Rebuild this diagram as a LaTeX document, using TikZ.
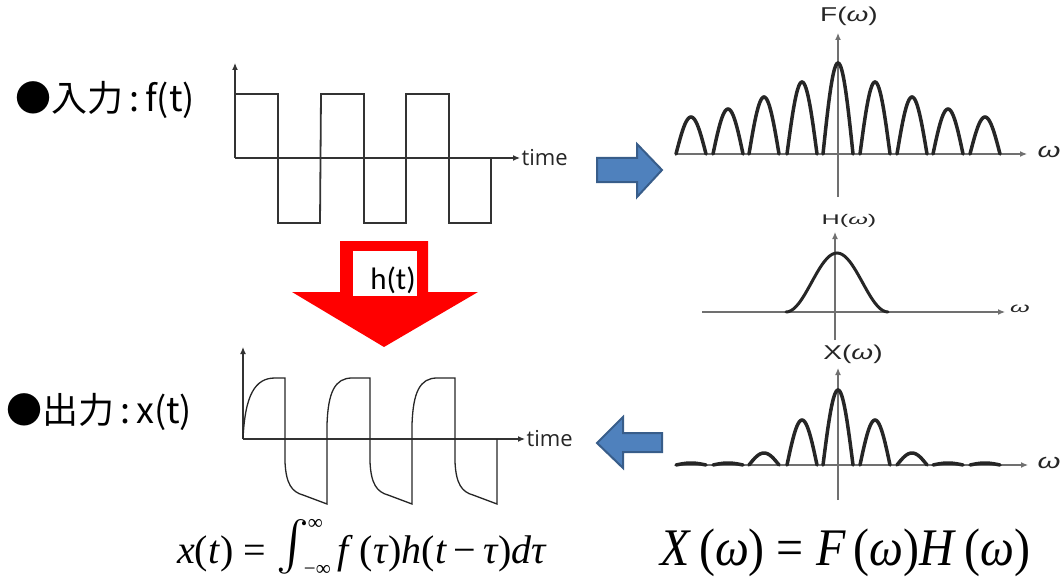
\documentclass[tikz,border=0pt]{standalone}
\usepackage{fontspec}
\usetikzlibrary{arrows.meta}
\newfontfamily\jpfont{Noto Sans CJK JP}
\newfontfamily\lblfont{Liberation Sans}
\newfontfamily\timefont{Open Sans}
\newfontfamily\hfont{Carlito}
\newfontfamily\eqfont{Liberation Serif}
\definecolor{ArrowBlue}{HTML}{4F81BD}
\definecolor{ArrowBlueEdge}{HTML}{385D8A}
\definecolor{AxisGray}{HTML}{707070}
\newcommand{\widelbl}[2][1.4]{\scalebox{#1}[1]{#2}}
\newcommand{\limlbl}[1]{\hbox{\eqfont\fontsize{21}{21}\selectfont #1}}
\newcommand{\bigint}{\raisebox{-15pt}{\resizebox*{!}{58pt}{$\int$}}}

\begin{document}
\begin{tikzpicture}[x=1pt, y=-1pt,
  axis/.style={line width=1.2pt, draw=black!80, -{Latex[length=7pt,width=6pt]}},
  specaxis/.style={axis, draw=AxisGray},
  wave/.style={line width=1.8pt, draw=black!80, line join=miter},
  resp/.style={line width=1.3pt, draw=black!85},
  lobe/.style={line width=3.5pt, draw=black!85, line cap=round},
  blockarrow/.style={fill=ArrowBlue, draw=ArrowBlueEdge, line width=2pt, line join=miter},
  title/.style={inner sep=0pt, anchor=west, font=\jpfont\fontsize{36}{40}\selectfont},
  timelbl/.style={right, inner sep=1pt, font=\timefont\fontsize{22}{24}\selectfont, text=black!85},
  speclbl/.style={inner sep=0pt, font=\lblfont\fontsize{20}{22}\selectfont, text=black!85},
  omegalbl/.style={inner sep=0pt, font=\lblfont\fontsize{21}{22}\selectfont, text=black!85},
  formula/.style={inner sep=0pt, anchor=base west}
]
\useasboundingbox (0,0) rectangle (1064,580);

% input f(t)
\node[title] (inlbl) at (15,100) {●入力\,:\,f(t)};
\draw[axis] (235,158) -- (235,63);
\draw[axis] (235,158) -- (520,158) node[timelbl] (intime) {time};
\draw[wave] (235,158) -- (235,94)
  \foreach \a in {235,321,406} { -- (\a,94) -- (\a+43,94) -- (\a+43,223) -- (\a+85,223) } -- (491,158);

% output x(t)
\node[title] (outlbl) at (6,412) {●出力\,:\,x(t)};
\draw[axis] (243,439) -- (243,347);
\draw[axis] (243,439) -- (525,439) node[timelbl] (outtime) {time};
\draw[resp] (243,439) .. controls (245,395) and (255,378) .. (275,378) -- (285,378)
  \foreach \f in {285,370} { -- (\f,462) .. controls (\f+1,484) and (\f+7,492) .. (\f+18,495) -- (\f+42,504)
    -- (\f+42,425) .. controls (\f+43,392) and (\f+50,378) .. (\f+67,378) -- (\f+85,378) }
  -- (455,462) .. controls (456,484) and (462,492) .. (473,495) -- (497,504) -- (497,439);

% h(t) arrow
\fill[red] (340,241) -- (428,241) -- (428,292) -- (478,292) -- (384,347) -- (292,292) -- (340,292) -- cycle;
\node[fill=white, inner sep=0pt, minimum width=64pt, minimum height=45pt] (hbox) at (385,273.5) {};
\node[inner sep=0pt, font=\hfont\fontsize{31}{34}\selectfont] (hlbl) at (393,280) {h(t)};

% block arrows
\draw[blockarrow] (597,158) -- (637,158) -- (637,144) -- (662,170) -- (637,197) -- (637,182) -- (597,182) -- cycle;
\draw[blockarrow] (662,433) -- (623,433) -- (623,417) -- (597,443) -- (623,468) -- (623,452) -- (662,452) -- cycle;

% F(w)
\draw[specaxis] (838,197) -- (838,33);
\draw[specaxis] (677,154) -- (1027,154);
\node[speclbl] (Flbl) at (849,16) {\widelbl{F(\textit{ω})}};
\node[omegalbl] (Fw) at (1049,152) {\widelbl{\textit{ω}}};
\foreach \c/\h in {691/37,728/45,764/57,802/72,838/91,875/72,912/57,948/45,985/37}
  \draw[lobe] plot[variable=\t, domain=0:180, samples=31, smooth] ({\c-15+\t/6}, {154-\h*sin(\t)});

% H(w)
\draw[specaxis] (835,340) -- (835,232);
\draw[specaxis] (702,312) -- (1005,312);
\node[speclbl, font=\lblfont\fontsize{14}{15}\selectfont] (Hlbl) at (849,221) {\widelbl[1.8]{H(\textit{ω})}};
\node[omegalbl, font=\lblfont\fontsize{14}{15}\selectfont] (Hw) at (1020,309) {\widelbl[1.8]{\textit{ω}}};
\draw[lobe, line width=3pt] plot[variable=\t, domain=-180:180, samples=41, smooth] ({837+\t*51/180}, {312-29.5*(1+cos(\t))});

% X(w)
\draw[specaxis] (838,500) -- (838,368);
\draw[specaxis] (675,465) -- (1028,465);
\node[speclbl] (Xlbl) at (853,354) {\widelbl{X(\textit{ω})}};
\node[omegalbl] (Xw) at (1049,463) {\widelbl{\textit{ω}}};
\foreach \c/\h in {691/2,728/2,764/12,802/45,838/75,875/45,912/12,948/2,985/2}
  \draw[lobe] plot[variable=\t, domain=0:180, samples=31, smooth] ({\c-15+\t/6}, {465-\h*sin(\t)});

% formulas
\node[formula, font=\eqfont\fontsize{40}{44}\selectfont] (conv) at (177,563)
  {\textit{x}(\textit{t}) = \bigint\hspace{-5pt}\rlap{\hspace{4pt}\raisebox{34pt}{\limlbl{∞}}}\raisebox{-12pt}{\limlbl{−∞}}\,\textit{f}\,(\textit{τ})\textit{h}(\textit{t}\,−\,\textit{τ})\textit{dτ}};
\node[formula, font=\eqfont\fontsize{48}{52}\selectfont] (prod) at (660,565)
  {\scalebox{1}[1.1]{\textit{X}\,(\textit{ω}) = \textit{F}\,(\textit{ω})\textit{H}\,(\textit{ω})}};
\end{tikzpicture}
\end{document}
